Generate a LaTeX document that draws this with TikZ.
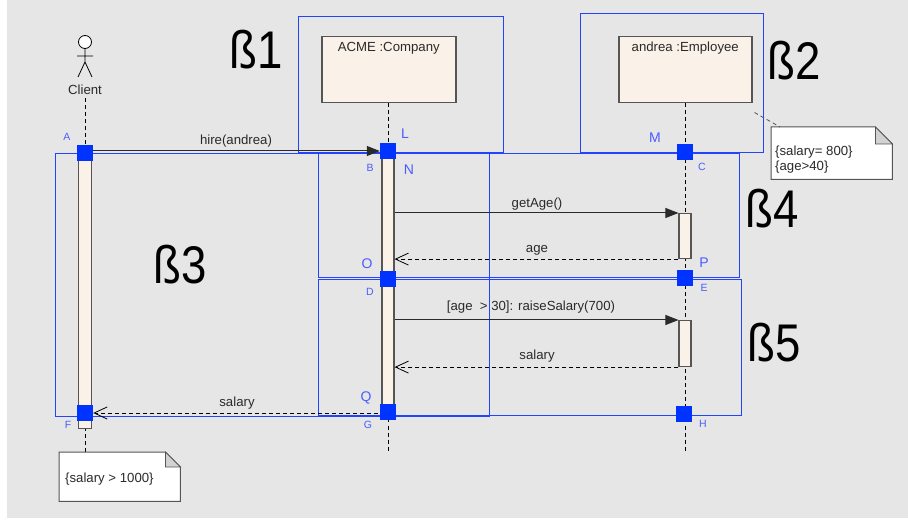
\documentclass[tikz,border=0pt]{standalone}
\usepackage{fontspec}
\setmainfont{Liberation Sans}
\newfontfamily\bigfont[FakeStretch=0.86]{Liberation Sans}
\usetikzlibrary{arrows.meta}
\definecolor{bg}{HTML}{E6E6E6}
\definecolor{frameblue}{HTML}{2244FF}
\definecolor{sqblue}{HTML}{0033FF}
\definecolor{lblblue}{HTML}{4A5CFF}
\definecolor{actfill}{HTML}{FAF2E8}
\definecolor{boxline}{HTML}{555555}
\definecolor{txt}{HTML}{2A2A2A}
\begin{document}
\begin{tikzpicture}[x=1pt,y=-1pt,
  frame/.style={draw=frameblue, line width=1pt},
  objbox/.style={draw=boxline, line width=1.5pt, fill=actfill, minimum width=134pt, minimum height=66pt, inner sep=0pt, anchor=north west},
  objtext/.style={font=\fontsize{13.2}{15}\selectfont, text=txt},
  actbar/.style={draw=boxline, line width=1.1pt, fill=actfill, inner sep=0pt, minimum width=12pt, anchor=north},
  lifeline/.style={draw=black, line width=0.8pt, dash pattern=on 4pt off 3pt},
  sqnode/.style={fill=sqblue, minimum width=16pt, minimum height=16pt, inner sep=0pt},
  smallbl/.style={font=\fontsize{10.5}{12}\selectfont, text=lblblue},
  bigbl/.style={font=\fontsize{14}{15}\selectfont, text=lblblue},
  msgtext/.style={font=\fontsize{13.2}{15}\selectfont, text=txt},
  big/.style={font=\bigfont\fontsize{53}{55}\selectfont, text=black},
  syncmsg/.style={draw=txt, line width=1pt, -{Triangle[length=13pt,width=10pt]}},
  retmsg/.style={draw=black, line width=0.8pt, dash pattern=on 4pt off 3pt, -{Straight Barb[length=13pt,width=12pt]}},
  notebox/.style={minimum width=121pt, minimum height=52pt, inner sep=0pt, anchor=north west},
  notelink/.style={draw=boxline, line width=0.8pt, dash pattern=on 4pt off 3pt}
]
\useasboundingbox (0,0) rectangle (908,521);
\fill[white] (0,0) rectangle (908,521);
\fill[bg] (7,0) rectangle (908,518);

% frames
\draw[frame] (298,17) rectangle (503,153);
\draw[frame] (580,14) rectangle (763,153);
\draw[frame] (55,154) rectangle (489,416);
\draw[frame] (318,154) rectangle (739,278);
\draw[frame] (318,280) rectangle (741,415);

% actor
\draw[line width=0.8pt, fill=white] (85,42) circle (6.5);
\draw[line width=0.8pt] (85,48.5) -- (85,62) (77,56) -- (93,56) (78,77) -- (85,62) -- (92,77);
\node[objtext] (client) at (85,90) {Client};

% object boxes
\node[objbox] (acme) at (321,36) {};
\node[objtext] at (acme.north |- 0,48) {ACME :Company};
\node[objbox, minimum width=133pt] (andrea) at (618,36) {};
\node[objtext] at (andrea.north |- 0,48) {andrea :Employee};

% lifeline ends
\coordinate (clientend) at (85,452);
\coordinate (acmeend) at (388,452);
\coordinate (andreaend) at (685,452);
\draw[lifeline] (client.south) -- (clientend);
\draw[lifeline] (acme.south -| acmeend) -- (acmeend);
\draw[lifeline] (andrea.south -| andreaend) -- (andreaend);

% activation bars
\node[actbar, minimum width=13pt, minimum height=275pt] (clientbar) at (85,153) {};
\node[actbar, minimum height=261pt] (acmebar) at (388,151) {};
\node[actbar, minimum height=45pt] (empbar1) at (685,213) {};
\node[actbar, minimum height=46pt] (empbar2) at (685,320) {};

% notes
\node[notebox] (note1) at (771,127) {};
\filldraw[fill=white, draw=boxline, line width=1pt] (note1.north west) -- ([xshift=-17pt]note1.north east) -- ([yshift=-17pt]note1.north east) -- (note1.south east) -- (note1.south west) -- cycle;
\filldraw[fill=gray!35, draw=boxline, line width=0.8pt] ([xshift=-17pt]note1.north east) -- ([xshift=-17pt,yshift=-17pt]note1.north east) -- ([yshift=-17pt]note1.north east) -- cycle;
\node[msgtext, anchor=west, align=left, inner sep=0pt] (note1txt) at (775,160) {\{salary= 800\}\\\{age>40\}};
\draw[notelink] ([xshift=2pt,yshift=-9pt]andrea.south east) -- ([xshift=9pt]note1.north west);

\node[notebox, minimum height=49pt] (note2) at (59,452) {};
\filldraw[fill=white, draw=boxline, line width=1pt] (note2.north west) -- ([xshift=-15pt]note2.north east) -- ([yshift=-15pt]note2.north east) -- (note2.south east) -- (note2.south west) -- cycle;
\filldraw[fill=gray!35, draw=boxline, line width=0.8pt] ([xshift=-15pt]note2.north east) -- ([xshift=-15pt,yshift=-15pt]note2.north east) -- ([yshift=-15pt]note2.north east) -- cycle;
\node[msgtext, anchor=west, inner sep=0pt] (note2txt) at (65,479) {\{salary > 1000\}};

% squares
\node[sqnode] (A) at (85,153) {};
\node[sqnode] (L) at (388,151) {};
\node[sqnode] (C) at (685,152) {};
\node[sqnode] (D) at (388,279) {};
\node[sqnode] (E) at (685,278) {};
\node[sqnode] (F) at (85,413) {};
\node[sqnode] (G) at (388,412) {};
\node[sqnode] (H) at (684,414) {};

% messages
\draw[syncmsg] (A.east |- 0,151) -- (L.west);
\node[msgtext] (m1) at (236,141) {hire(andrea)};
\draw[syncmsg] (acmebar.east |- empbar1.north) -- (empbar1.north west);
\node[msgtext] (m2) at (537,204) {getAge()};
\draw[retmsg] (empbar1.south west) -- (acmebar.east |- empbar1.south);
\node[msgtext] (m3) at (537,250) {age};
\draw[syncmsg] (acmebar.east |- empbar2.north) -- (empbar2.north west);
\node[msgtext] (m4) at (531,307) {[age\ \ > 30]: raiseSalary(700)};
\draw[retmsg] (empbar2.south west) -- (acmebar.east |- empbar2.south);
\node[msgtext] (m5) at (537,356) {salary};
\draw[retmsg] ([xshift=-2pt]G.west |- 0,413) -- (F.east |- 0,413);
\node[msgtext] (m6) at (237,403) {salary};

% point labels
\node[smallbl] (lA) at (67,137) {A};
\node[bigbl] (lL) at (405,134) {L};
\node[smallbl] (lB) at (370,168) {B};
\node[bigbl] (lN) at (409,170) {N};
\node[bigbl] (lM) at (655,138) {M};
\node[smallbl] (lC) at (702,167) {C};
\node[bigbl] (lO) at (367,264) {O};
\node[bigbl] (lP) at (704,263) {P};
\node[smallbl] (lD) at (370,292) {D};
\node[smallbl] (lE) at (704,288) {E};
\node[bigbl] (lQ) at (366,398) {Q};
\node[smallbl] (lG) at (368,425) {G};
\node[smallbl] (lF) at (68,425) {F};
\node[smallbl] (lH) at (703,424) {H};

% big labels
\node[big] (b1) at (256,50) {ß1};
\node[big] (b2) at (794,61) {ß2};
\node[big] (b3) at (180,265) {ß3};
\node[big] (b4) at (772,209) {ß4};
\node[big] (b5) at (774,343) {ß5};
\end{tikzpicture}
\end{document}
